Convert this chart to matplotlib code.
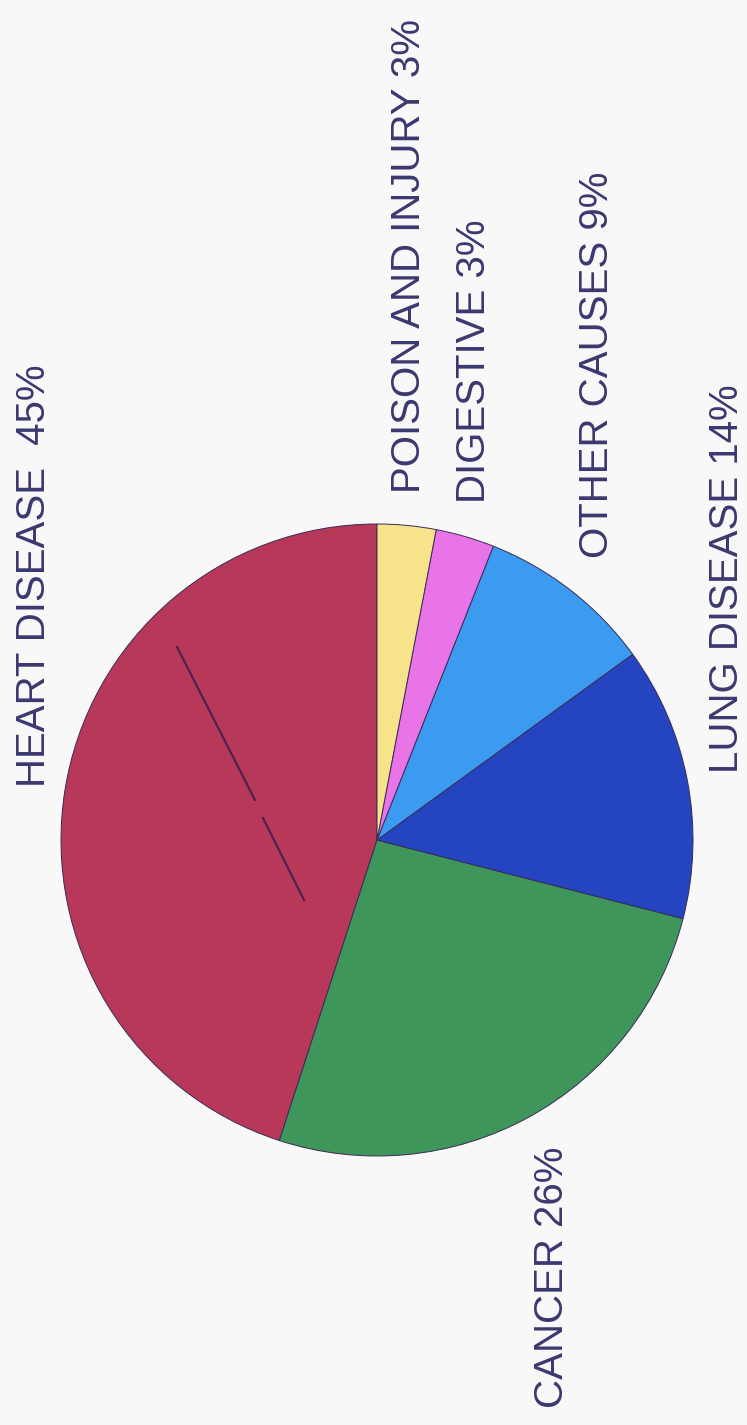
import matplotlib
matplotlib.use("Agg")
import matplotlib.pyplot as plt

# Causes of death, share of total (%)
causes = ["HEART DISEASE", "CANCER", "LUNG DISEASE", "OTHER CAUSES", "DIGESTIVE", "POISON AND INJURY"]
shares = [45, 26, 14, 9, 3, 3]
colors = ["#B8385A", "#3E965A", "#2545C0", "#3A9BF0", "#E874E8", "#F7E48A"]

W, H = 747, 1425
DPI = 100
BG = "#F7F8F7"
TEXT = "#3B3870"

fig = plt.figure(figsize=(W / DPI, H / DPI), dpi=DPI, facecolor=BG)


def fx(px):
    return px / W


def fy(py):
    return 1 - py / H


# Pie: centre (377, 840) px, radius 316 px
cx, cy, r = 377, 840, 316
ax = fig.add_axes([fx(cx - r), fy(cy + r), 2 * r / W, 2 * r / H])
ax.set_facecolor("none")
ax.pie(shares, colors=colors, startangle=90, counterclock=True, radius=1.0,
       wedgeprops=dict(edgecolor="#3a2a5a", linewidth=0.7))
ax.set_xlim(-1, 1)
ax.set_ylim(-1, 1)
ax.set_aspect("equal")
ax.axis("off")

# Pen stroke across the heart-disease wedge
for (x0, y0), (x1, y1) in [((177, 647), (255, 800)), ((263, 818), (304, 900))]:
    fig.add_artist(plt.Line2D([fx(x0), fx(x1)], [fy(y0), fy(y1)],
                              color="#4a2050", linewidth=1.5, transform=fig.transFigure))

# Rotated labels: anchor = baseline x, start y (px)
labels = [
    ("HEART DISEASE  45%", 45, 787),
    ("POISON AND INJURY 3%", 420, 493),
    ("DIGESTIVE 3%", 485, 503),
    ("OTHER CAUSES 9%", 608, 558),
    ("LUNG DISEASE 14%", 738, 773),
    ("CANCER 26%", 563, 1408),
]
for text, x, y in labels:
    fig.text(fx(x), fy(y), text, rotation=90, rotation_mode="anchor",
             ha="left", va="baseline", fontsize=29, color=TEXT,
             family=["Liberation Sans", "DejaVu Sans"])

fig.savefig("out.png", dpi=DPI, facecolor=BG)
